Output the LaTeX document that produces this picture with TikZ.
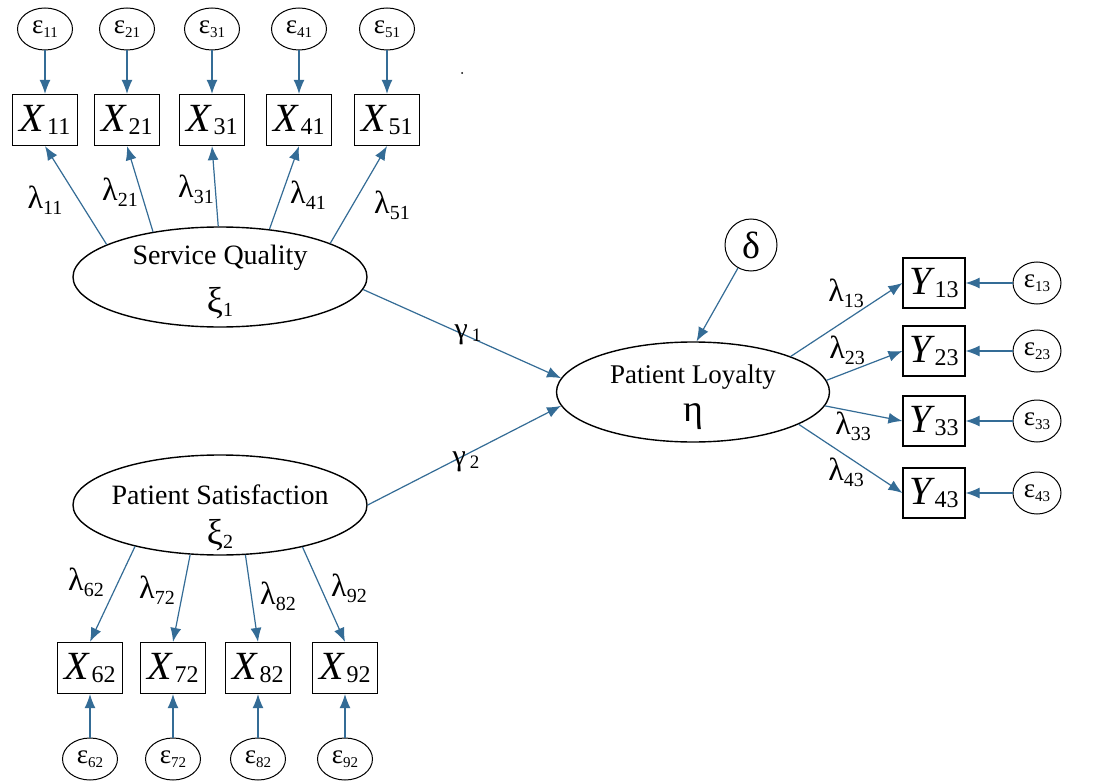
\documentclass[tikz,border=0pt]{standalone}
\usepackage{fontspec}
\setmainfont{Liberation Serif}
\usetikzlibrary{arrows.meta,shapes.geometric}
\definecolor{arr}{RGB}{52,108,150}
\newcommand\lam[1]{{\fontsize{32}{32}\selectfont λ}\raisebox{-6pt}{\fontsize{20}{20}\selectfont #1}}
\newcommand\eps[1]{{\fontsize{27}{27}\selectfont ε}\raisebox{-4pt}{\fontsize{15}{15}\selectfont #1}}
\newcommand\xv[2]{{\fontsize{40}{40}\selectfont\itshape #1}\kern3pt\raisebox{-3pt}{\fontsize{24}{24}\selectfont #2}}
\newcommand\gam[1]{{\fontsize{30}{30}\selectfont γ}\kern4pt\raisebox{-3pt}{\fontsize{19}{19}\selectfont #1}}
\newcommand\lv[2]{{\fontsize{36}{36}\selectfont #1}\raisebox{-4pt}{\fontsize{20}{20}\selectfont #2}}
\begin{document}
\begin{tikzpicture}[x=1pt,y=-1pt,
 obs/.style={draw,line width=1.2pt,minimum width=65pt,minimum height=51pt,inner sep=0pt},
 obsy/.style={obs,minimum width=62pt,minimum height=50pt},
 err/.style={draw,ellipse,line width=1pt,minimum width=55pt,minimum height=42pt,inner sep=0pt},
 erry/.style={err,minimum width=48pt},
 lat/.style={draw,ellipse,line width=1.4pt,minimum width=294pt,minimum height=100pt,inner sep=0pt},
 link/.style={draw=arr,line width=1.2pt,-{Latex[length=14pt,width=11pt]}},
 lbl/.style={inner sep=0pt},
 big/.style={inner sep=0pt,font=\fontsize{28}{28}\selectfont}
]
\fill[white] (0,0) rectangle (1098,781);
\useasboundingbox (0,0) rectangle (1098,781);

% stray dot
\fill (462,73) circle (1pt);

% Service Quality block
\node[lat] (SQ) at (220,277) {};
\node[big] (SQt) at (220,258) {Service Quality};
\node[lbl] (SQx) at (220,303) {\lv{ξ}{1}};

\foreach \n/\x in {11/45,21/127,31/212,41/299,51/387}{
  \node[err] (e\n) at (\x,29) {\eps{\n}};
  \node[obs] (X\n) at (\x,120) {\xv{X}{\n}};
  \draw[link] (e\n) -- (X\n);
}
\draw[link] (SQ.164) -- (X11.south);
\draw[link] (SQ.146) -- (X21.south);
\draw[link] (SQ.92) -- (X31.south);
\draw[link] (SQ.44) -- (X41.south);
\draw[link] (SQ.17) -- (X51.south);
\node[lbl] (l11) at (45,200) {\lam{11}};
\node[lbl] (l21) at (120,192) {\lam{21}};
\node[lbl] (l31) at (196,189) {\lam{31}};
\node[lbl] (l41) at (308,195) {\lam{41}};
\node[lbl] (l51) at (392,205) {\lam{51}};

% Patient Satisfaction block
\node[lat] (PS) at (220,505) {};
\node[big] (PSt) at (220,495) {Patient Satisfaction};
\node[lbl] (PSx) at (220,535) {\lv{ξ}{2}};

\foreach \n/\x in {62/90,72/173,82/258,92/345}{
  \node[obs] (X\n) at (\x,668) {\xv{X}{\n}};
  \node[err] (e\n) at (\x,759) {\eps{\n}};
  \draw[link] (e\n) -- (X\n);
}
\draw[link] (PS.206) -- (X62.north);
\draw[link] (PS.239) -- (X72.north);
\draw[link] (PS.297) -- (X82.north);
\draw[link] (PS.333) -- (X92.north);
\node[lbl] (l62) at (86,582) {\lam{62}};
\node[lbl] (l72) at (157,590) {\lam{72}};
\node[lbl] (l82) at (278,596) {\lam{82}};
\node[lbl] (l92) at (349,588) {\lam{92}};

% Patient Loyalty block
\node[lat,minimum width=273pt] (PL) at (693,392) {};
\node[big,font=\fontsize{27}{27}\selectfont] (PLt) at (693,377) {Patient Loyalty};
\node[lbl,font=\fontsize{38}{38}\selectfont] (PLx) at (693,417) {η};
\node[draw,circle,line width=1pt,minimum size=52pt,inner sep=0pt,font=\fontsize{38}{38}\selectfont] (delta) at (751,245) {δ};
\draw[link] (delta) -- (PL.86);

\draw[link] (SQ.355) -- (PL.174);
\draw[link] (PS.0) -- (PL.186);
\node[lbl] (g1) at (468,335) {\gam{1}};
\node[lbl] (g2) at (466,462) {\gam{2}};

\foreach \n/\y in {13/283,23/351,33/421,43/493}{
  \node[obsy] (Y\n) at (934,\y) {\xv{Y}{\n}};
  \node[erry] (e\n) at (1037,\y) {\eps{\n}};
  \draw[link] (e\n) -- (Y\n);
}
\draw[link] (PL.20) -- (Y13.west);
\draw[link] (PL.5) -- (Y23.west);
\draw[link] (PL.354) -- (Y33.west);
\draw[link] (PL.343) -- (Y43.west);
\node[lbl] (l13) at (846,293) {\lam{13}};
\node[lbl] (l23) at (847,350) {\lam{23}};
\node[lbl] (l33) at (853,426) {\lam{33}};
\node[lbl] (l43) at (846,472) {\lam{43}};
\end{tikzpicture}
\end{document}
